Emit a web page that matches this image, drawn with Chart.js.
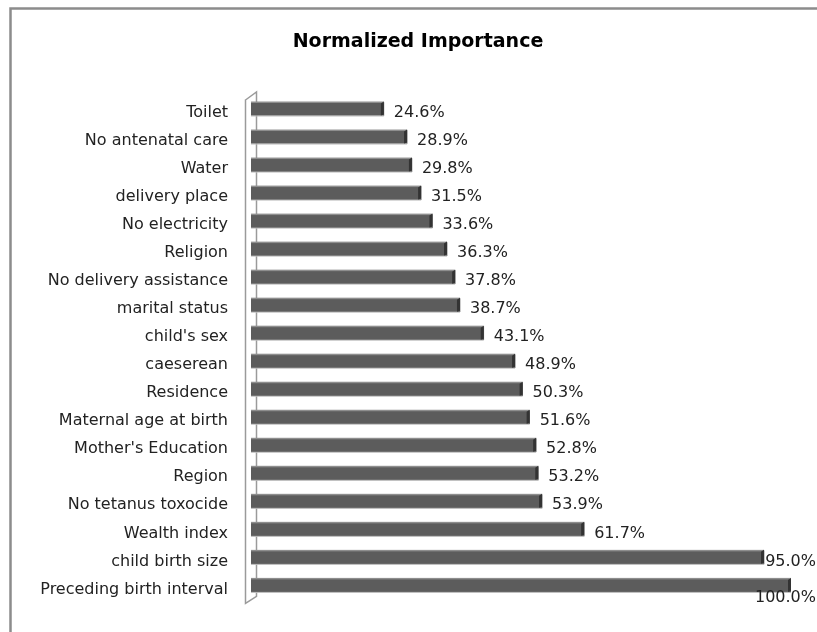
<!DOCTYPE html>
<html><head><meta charset="utf-8">
<script src="https://cdn.jsdelivr.net/npm/chart.js@4/dist/chart.umd.min.js"></script>
<style>html,body{margin:0;padding:0;background:#fff}#wrap{width:817px;height:632px}</style>
</head><body><div id="wrap"><canvas id="c" width="817" height="632"></canvas></div>
<script>
const categories = ["Toilet","No antenatal care","Water","delivery place","No electricity","Religion","No delivery assistance","marital status","child's sex","caeserean","Residence","Maternal age at birth","Mother's Education","Region","No tetanus toxocide","Wealth index","child birth size","Preceding birth interval"];
const importance = [24.6,28.9,29.8,31.5,33.6,36.3,37.8,38.7,43.1,48.9,50.3,51.6,52.8,53.2,53.9,61.7,95.0,100.0];
const axisMin = 0;
const axisMax = 100;
const chartTitle = "Normalized Importance";

const FONT = "'DejaVu Sans', sans-serif";

const framePlugin = {
  id: 'frame',
  beforeDraw(chart) {
    const ctx = chart.ctx;
    ctx.save();
    ctx.fillStyle = '#fff';
    ctx.fillRect(0, 0, chart.width, chart.height);
    ctx.strokeStyle = '#8c8c8c';
    ctx.lineWidth = 2.5;
    ctx.strokeRect(10.5, 8.5, 1000, 1000);
    ctx.restore();
  }
};

const titlePlugin = {
  id: 'titleText',
  afterDraw(chart) {
    const ctx = chart.ctx;
    ctx.save();
    ctx.font = "bold 19px " + FONT;
    ctx.fillStyle = '#000';
    ctx.textAlign = 'center';
    ctx.textBaseline = 'middle';
    ctx.fillText(chartTitle, (chart.width + 19) / 2, 42);
    ctx.restore();
  }
};

const wallPlugin = {
  id: 'wall',
  beforeDatasetsDraw(chart) {
    const a = chart.chartArea, ctx = chart.ctx;
    const xl = a.left - 5.5, xr = a.left + 5.5;
    ctx.save();
    ctx.strokeStyle = '#9a9a9a';
    ctx.lineWidth = 1.5;
    ctx.beginPath();
    ctx.moveTo(xl, a.top + 5);
    ctx.lineTo(xr, a.top - 3);
    ctx.lineTo(xr, a.bottom - 3);
    ctx.lineTo(xl, a.bottom + 4);
    ctx.closePath();
    ctx.stroke();
    ctx.restore();
  }
};

const bar3dPlugin = {
  id: 'bar3d',
  afterDatasetsDraw(chart) {
    const ctx = chart.ctx;
    const meta = chart.getDatasetMeta(0);
    ctx.save();
    meta.data.forEach(el => {
      const p = el.getProps(['x', 'y', 'base', 'height'], true);
      const top = p.y - p.height / 2, bot = p.y + p.height / 2;
      ctx.fillStyle = '#8e8e8e';
      ctx.fillRect(p.base, top - 1, p.x - p.base, 1.5);
      ctx.fillStyle = '#bdbdbd';
      ctx.fillRect(p.base, bot, p.x - p.base, 1);
      ctx.fillStyle = '#333';
      ctx.beginPath();
      ctx.moveTo(p.x - 3, top + 1);
      ctx.lineTo(p.x, top - 1);
      ctx.lineTo(p.x, bot - 1);
      ctx.lineTo(p.x - 3, bot);
      ctx.closePath();
      ctx.fill();
    });
    ctx.restore();
  }
};

const labelPlugin = {
  id: 'vlabels',
  afterDatasetsDraw(chart) {
    const ctx = chart.ctx;
    const meta = chart.getDatasetMeta(0);
    ctx.save();
    ctx.font = "16px " + FONT;
    ctx.fillStyle = '#222';
    ctx.textBaseline = 'middle';
    ctx.textAlign = 'left';
    meta.data.forEach((el, i) => {
      const p = el.getProps(['x', 'y'], true);
      const txt = importance[i].toFixed(1) + '%';
      const w = ctx.measureText(txt).width;
      let x = Math.min(p.x + 10, chart.width - 1 - w);
      let y = p.y + 4;
      if (x < p.x - 2) y += 8;
      ctx.fillText(txt, x, y);
    });
    ctx.restore();
  }
};

new Chart(document.getElementById('c'), {
  type: 'bar',
  data: {
    labels: categories,
    datasets: [{
      data: importance,
      backgroundColor: '#5c5c5c',
      borderWidth: 0,
      barThickness: 13
    }]
  },
  options: {
    indexAxis: 'y',
    responsive: false,
    animation: false,
    devicePixelRatio: 1,
    layout: { padding: { left: 14, right: 26, top: 95, bottom: 31 } },
    plugins: {
      legend: { display: false },
      tooltip: { enabled: false },
      title: { display: false }
    },
    scales: {
      x: { display: false, min: axisMin, max: axisMax },
      y: {
        grid: { display: false, drawTicks: false },
        border: { display: false },
        ticks: {
          color: '#222',
          font: { family: FONT, size: 16 },
          padding: 23,
          labelOffset: 4,
          autoSkip: false
        },
        afterFit(scale) { scale.width = 237; }
      }
    }
  },
  plugins: [framePlugin, wallPlugin, bar3dPlugin, labelPlugin, titlePlugin]
});
</script>
</body></html>
